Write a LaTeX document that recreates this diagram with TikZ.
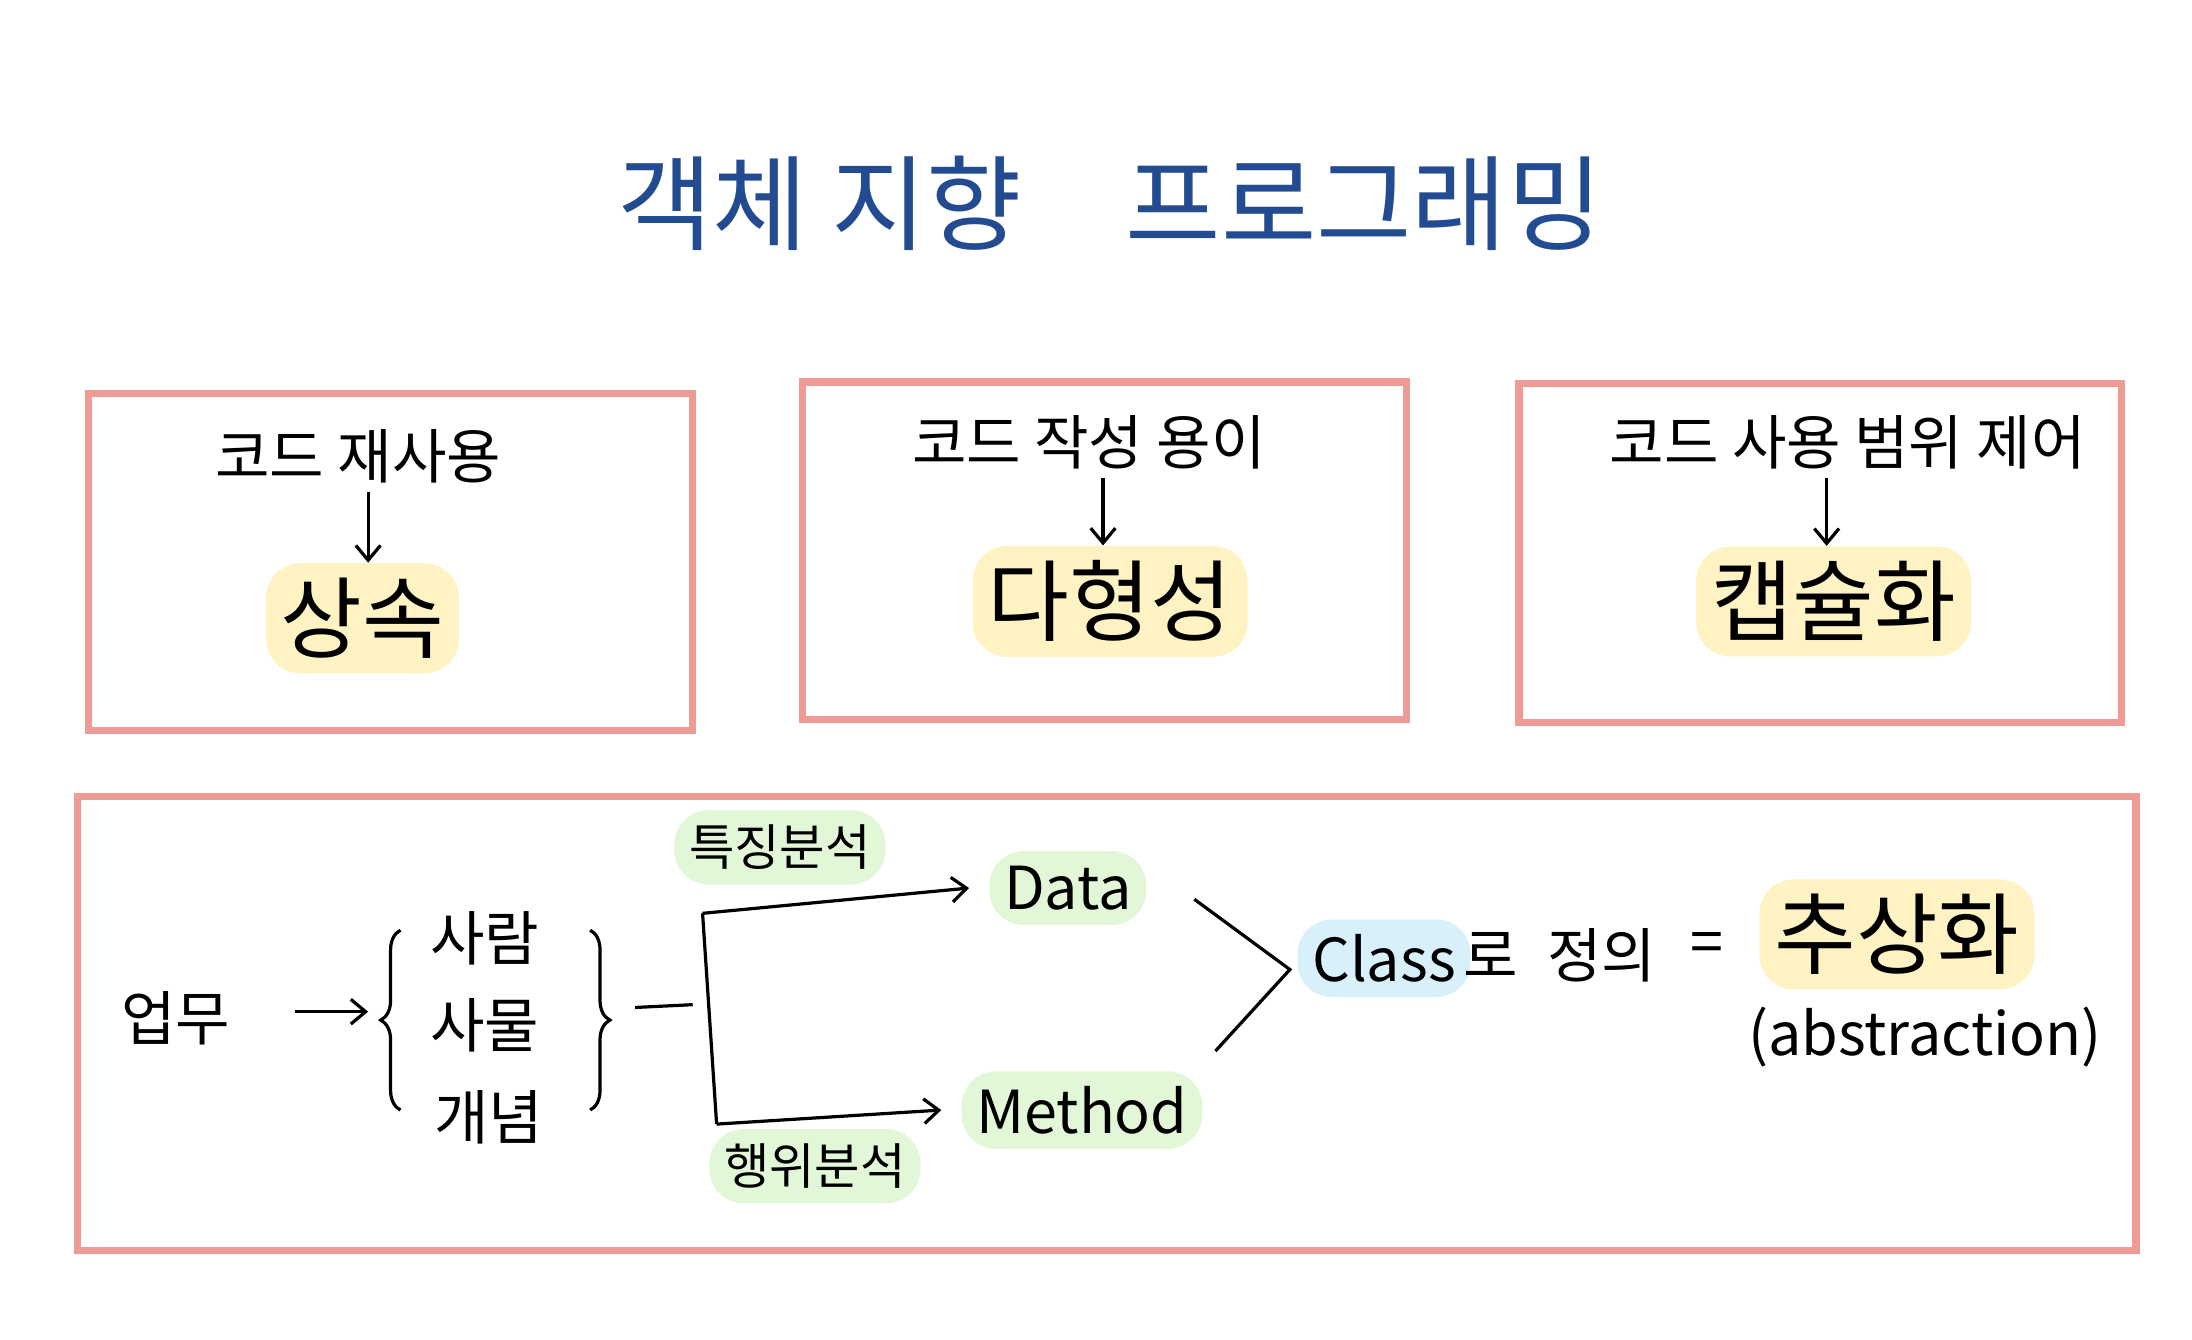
\documentclass[tikz,border=0pt]{standalone}
\usepackage{fontspec}
\setmainfont{Noto Sans CJK KR}
\usetikzlibrary{decorations.pathreplacing,arrows.meta}
\definecolor{pinkb}{RGB}{238,155,150}
\definecolor{titleb}{RGB}{35,75,145}
\definecolor{hly}{RGB}{255,242,195}
\definecolor{hlg}{RGB}{225,247,215}
\definecolor{hlb}{RGB}{215,240,250}
\tikzset{
  box/.style={draw=pinkb,line width=3pt},
  txt/.style={font=\fontsize{24}{28}\selectfont},
  big/.style={font=\fontsize{36}{40}\selectfont},
  hl/.style={fill=#1,rounded corners=14pt,inner sep=6pt},
  arr/.style={-{Straight Barb[length=6pt,width=10pt]},line width=1.3pt},
  ln/.style={line width=1.3pt}
}
\begin{document}
\begin{tikzpicture}[x=0.02cm,y=-0.02cm]
\useasboundingbox (0,0) rectangle (1560,953);
\node[font=\fontsize{42}{48}\selectfont,text=titleb] (title) at (790,145) {객체 지향\quad 프로그래밍};
% boxes
\draw[box] (63,280) rectangle (493,520);
\draw[box] (571,272) rectangle (1001,512);
\draw[box] (1081,273) rectangle (1510,514);
\draw[box] (55,567) rectangle (1520,890);
% box 1
\node[txt] (a1) at (255,325) {코드 재사용};
\node[big,hl=hly] (b1) at (258,440) {상속};
\draw[arr] (a1.south) ++(7,0) coordinate (a1s) -- (b1.north -| a1s);
% box 2
\node[txt] (a2) at (775,315) {코드 작성 용이};
\node[big,hl=hly] (b2) at (790,428) {다형성};
\draw[arr] (a2.south) ++(10,0) coordinate (a2s) -- (b2.north -| a2s);
% box 3
\node[txt] (a3) at (1315,315) {코드 사용 범위 제어};
\node[big,hl=hly] (b3) at (1305,428) {캡슐화};
\draw[arr] (a3.south) ++(-15,0) coordinate (a3s) -- (b3.north -| a3s);
% box 4
\node[txt] (w) at (125,725) {업무};
\coordinate (lb1) at (285,790);
\coordinate (lb2) at (285,662);
\draw[arr] (210,720) -- (262,720);
\draw[ln,decorate,decoration={brace,amplitude=8pt}] (lb1) -- (lb2);
\node[txt] (p1) at (345,668) {사람};
\node[txt] (p2) at (345,730) {사물};
\node[txt] (p3) at (348,795) {개념};
\draw[ln,decorate,decoration={brace,amplitude=8pt}] (420,662) -- (420,790);
\draw[ln] (452,717) -- (493,715);
\coordinate (ct) at (500,650);
\coordinate (cb) at (510,800);
\node[txt,hl=hlg] (d) at (760,632) {Data};
\node[txt,hl=hlg] (m) at (770,790) {Method};
\draw[ln] (ct) -- (cb);
\draw[arr] (ct) -- ([xshift=-8pt]d.west);
\draw[arr] (cb) -- ([xshift=-8pt]m.west);
\node[font=\fontsize{20}{24}\selectfont,hl=hlg] (f1) at (555,603) {특징분석};
\node[font=\fontsize{20}{24}\selectfont,hl=hlg] (f2) at (580,830) {행위분석};
\draw[ln] (850,640) -- (918,690) -- (865,748);
\node[txt,hl=hlb] (cl) at (985,682) {Class};
\node[txt,anchor=west] (cl2) at (1035,680) {로\; 정의};
\node[txt] (eq) at (1215,675) {=};
\node[big,hl=hly] (ab) at (1350,665) {추상화};
\node[txt] (abs) at (1370,738) {(abstraction)};
\end{tikzpicture}
\end{document}
